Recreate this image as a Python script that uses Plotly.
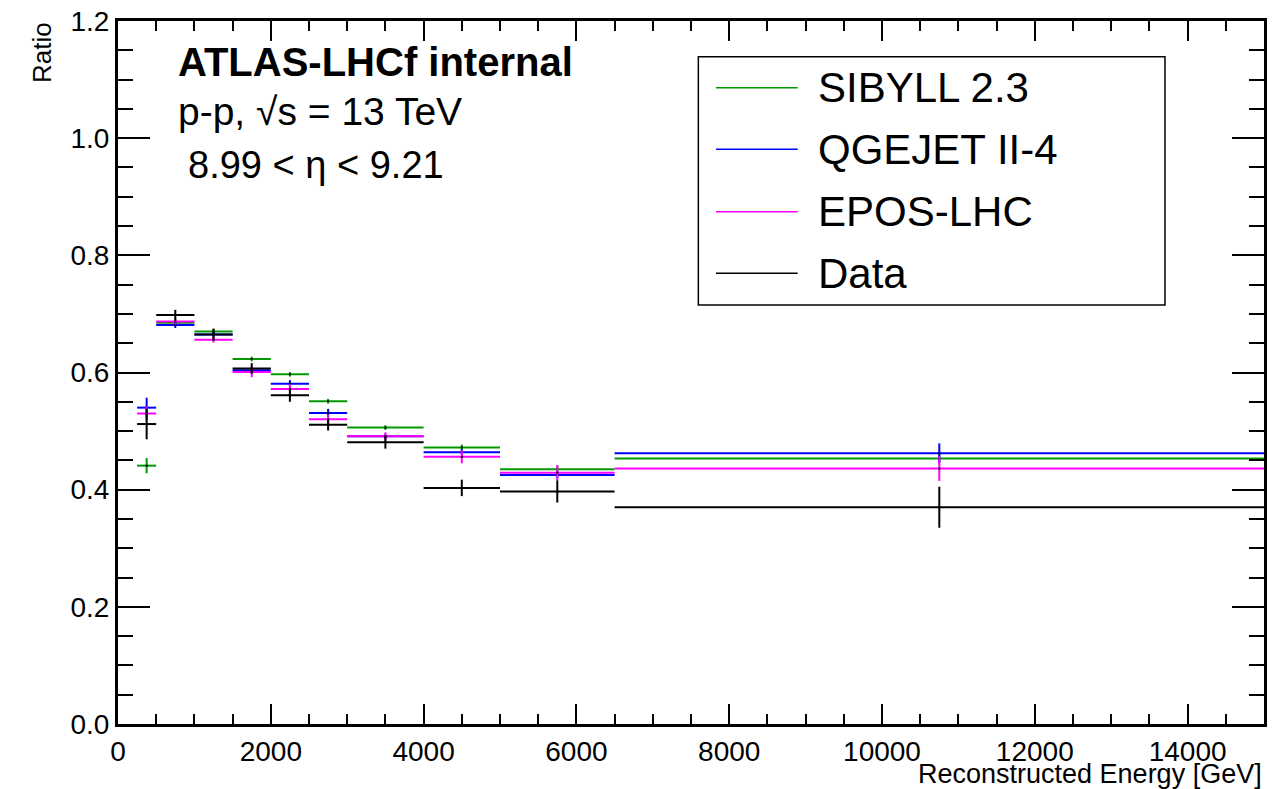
import plotly.graph_objects as go

# ---- data ----
bin_edges = [250, 500, 1000, 1500, 2000, 2500, 3000, 4000, 5000, 6500, 15000]

series_names = ["SIBYLL 2.3", "QGEJET II-4", "EPOS-LHC", "Data"]
series_colors = ["#009a00", "#0000ff", "#ff00ff", "#000000"]

sibyll = [0.441, 0.685, 0.670, 0.623, 0.597, 0.551, 0.506, 0.472, 0.435, 0.453]
sibyll_err = [0.013, 0.004, 0.004, 0.004, 0.004, 0.004, 0.004, 0.005, 0.006, 0.006]

qgsjet = [0.540, 0.681, 0.665, 0.604, 0.581, 0.531, 0.491, 0.464, 0.425, 0.462]
qgsjet_err = [0.017, 0.005, 0.004, 0.005, 0.006, 0.007, 0.004, 0.005, 0.005, 0.017]

epos = [0.530, 0.687, 0.656, 0.601, 0.572, 0.520, 0.491, 0.456, 0.429, 0.436]
epos_err = [0.012, 0.005, 0.005, 0.009, 0.008, 0.008, 0.007, 0.011, 0.013, 0.021]

data = [0.512, 0.698, 0.665, 0.607, 0.561, 0.511, 0.481, 0.403, 0.397, 0.370]
data_err = [0.026, 0.009, 0.010, 0.009, 0.011, 0.010, 0.011, 0.014, 0.019, 0.035]

x_ticks = [0, 2000, 4000, 6000, 8000, 10000, 12000, 14000]
y_ticks = [0.0, 0.2, 0.4, 0.6, 0.8, 1.0, 1.2]

centers = [(a + b) / 2 for a, b in zip(bin_edges[:-1], bin_edges[1:])]
halfw = [(b - a) / 2 for a, b in zip(bin_edges[:-1], bin_edges[1:])]

FONT = "Liberation Sans"

fig = go.Figure()
for name, color, vals, errs in zip(series_names, series_colors,
                                    [sibyll, qgsjet, epos, data],
                                    [sibyll_err, qgsjet_err, epos_err, data_err]):
    fig.add_trace(go.Scatter(
        x=centers, y=vals, mode="markers", name=name,
        marker=dict(size=2, color="black", symbol="square"),
        error_x=dict(type="data", array=halfw, width=0, thickness=2, color=color),
        error_y=dict(type="data", array=errs, width=0, thickness=2, color=color),
        showlegend=False,
    ))

# ---- manual ROOT-style legend ----
L_x0, L_x1, L_y0, L_y1 = 0.5064, 0.9136, 0.596, 0.9492
row_y = [0.9051, 0.8175, 0.7287, 0.6411]
shapes = [dict(type="rect", xref="paper", yref="paper", x0=L_x0, x1=L_x1,
               y0=L_y0, y1=L_y1, line=dict(color="black", width=1.5),
               fillcolor="white", layer="above")]
annotations = []
for name, color, yy in zip(series_names, series_colors, row_y):
    shapes.append(dict(type="line", xref="paper", yref="paper",
                       x0=0.5218, x1=0.5931, y0=yy, y1=yy,
                       line=dict(color=color, width=1.5), layer="above"))
    annotations.append(dict(xref="paper", yref="paper", x=0.6091, y=yy,
                            text=name, showarrow=False, xanchor="left",
                            yanchor="middle",
                            font=dict(family=FONT, size=42, color="black")))

# ---- text labels ----
annotations += [
    dict(xref="paper", yref="paper", x=0.0506, y=0.9417,
         text="<b>ATLAS-LHCf internal</b>", showarrow=False,
         xanchor="left", yanchor="middle",
         font=dict(family=FONT, size=40, color="black")),
    dict(xref="paper", yref="paper", x=0.0506, y=0.8706,
         text="p-p, √s = 13 TeV", showarrow=False,
         xanchor="left", yanchor="middle",
         font=dict(family=FONT, size=39, color="black")),
    dict(xref="paper", yref="paper", x=0.0593, y=0.7952,
         text="8.99 < η < 9.21", showarrow=False,
         xanchor="left", yanchor="middle",
         font=dict(family=FONT, size=38, color="black")),
    dict(xref="paper", yref="paper", x=1.0, y=-0.0715,
         text="Reconstructed Energy [GeV]", showarrow=False,
         xanchor="right", yanchor="middle",
         font=dict(family=FONT, size=27, color="black")),
    dict(xref="paper", yref="paper", x=-0.0663, y=0.9545,
         text="Ratio", showarrow=False, textangle=-90,
         xanchor="center", yanchor="middle",
         font=dict(family=FONT, size=26, color="black")),
]

# page body adds an 8px offset, so the figure is shrunk/shifted accordingly
fig.update_layout(
    width=1270, height=781,
    margin=dict(l=110, r=14, t=13, b=65, autoexpand=False),
    paper_bgcolor="white", plot_bgcolor="white",
    font=dict(family=FONT, size=28, color="black"),
    shapes=shapes, annotations=annotations,
    showlegend=False,
)
fig.update_xaxes(
    range=[0, 15000], tickvals=x_ticks, ticktext=[str(v) for v in x_ticks],
    ticks="inside", ticklen=20, tickwidth=2, tickcolor="black",
    minor=dict(ticks="inside", ticklen=10, tickwidth=2, dtick=500, tick0=0,
               tickcolor="black", showgrid=False),
    showline=True, linewidth=3, linecolor="black", mirror="ticks",
    showgrid=False, zeroline=False, automargin=False,
    ticklabeloverflow="allow",
    tickfont=dict(family=FONT, size=28, color="black"),
)
fig.update_yaxes(
    range=[0, 1.2], tickvals=y_ticks, ticktext=[f"{v:.1f}" for v in y_ticks],
    ticks="inside", ticklen=32, tickwidth=2, tickcolor="black",
    minor=dict(ticks="inside", ticklen=15, tickwidth=2, dtick=0.05, tick0=0,
               tickcolor="black", showgrid=False),
    showline=True, linewidth=3, linecolor="black", mirror="ticks",
    showgrid=False, zeroline=False, automargin=False,
    ticklabeloverflow="allow",
    tickfont=dict(family=FONT, size=28, color="black"),
)

fig.write_html("out.html")
